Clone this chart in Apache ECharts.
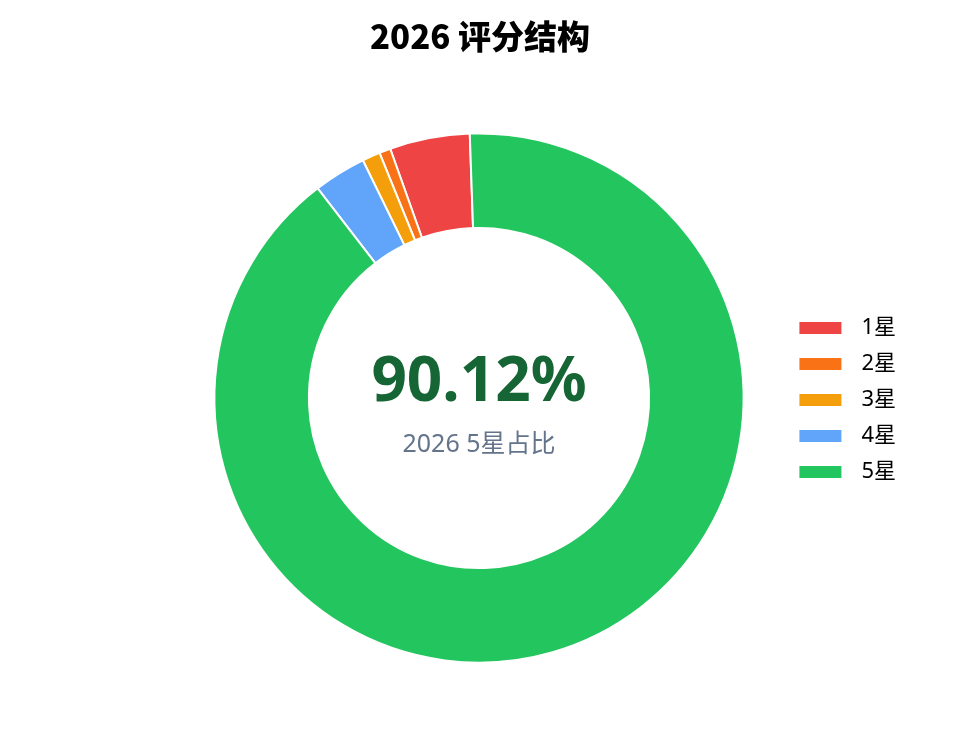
<!DOCTYPE html>
<html>
<head>
<meta charset="utf-8">
<script src="https://cdn.jsdelivr.net/npm/echarts@6/dist/echarts.min.js"></script>
<style>
  html, body { margin: 0; padding: 0; background: #fff; }
  #chart { width: 972px; height: 756px; }
</style>
</head>
<body>
<div id="chart"></div>
<script>
// 评分结构数据
const year = '2026';
const categories = ['1星', '2星', '3星', '4星', '5星'];
const shares = [4.89, 0.69, 1.10, 3.20, 90.12];
const colors = ['#ef4444', '#f97316', '#f59e0b', '#60a5fa', '#22c55e'];

const total = shares.reduce((a, b) => a + b, 0);
const fiveShare = (shares[4] / total * 100).toFixed(2) + '%';

const chart = echarts.init(document.getElementById('chart'));
const cx = 479, cy = 398;
const font = '"Noto Sans", "Noto Sans CJK SC", sans-serif';

const option = {
  textStyle: { fontFamily: font },
  title: {
    text: year + ' 评分结构',
    left: 475,
    textAlign: 'center',
    top: 15,
    textStyle: { fontFamily: '"Noto Sans CJK SC", sans-serif', fontSize: 33, fontWeight: 900, color: '#000' }
  },
  legend: {
    orient: 'vertical',
    right: 71,
    top: 312,
    icon: 'rect',
    itemWidth: 44,
    itemHeight: 14,
    itemGap: 14,
    textStyle: { fontFamily: font, fontSize: 22, color: '#000', padding: [0, 0, 0, 14] },
    data: categories
  },
  graphic: [
    {
      type: 'text',
      x: cx, y: 383,
      style: {
        text: fiveShare,
        textAlign: 'center', textVerticalAlign: 'middle',
        fontFamily: font, fontSize: 62, fontWeight: 'bold', fill: '#166534'
      }
    },
    {
      type: 'text',
      x: cx, y: 445,
      style: {
        text: year + ' 5星占比',
        textAlign: 'center', textVerticalAlign: 'middle',
        fontFamily: font, fontSize: 25, fill: '#64748b'
      }
    }
  ],
  series: [{
    type: 'pie',
    center: [cx, cy],
    radius: ['45%', '70%'],
    clockwise: false,
    startAngle: 92,
    label: { show: false },
    labelLine: { show: false },
    itemStyle: { borderColor: '#fff', borderWidth: 2 },
    data: categories.map((name, i) => ({
      name: name,
      value: shares[i],
      itemStyle: { color: colors[i] }
    }))
  }]
};
chart.setOption(option);
</script>
</body>
</html>
